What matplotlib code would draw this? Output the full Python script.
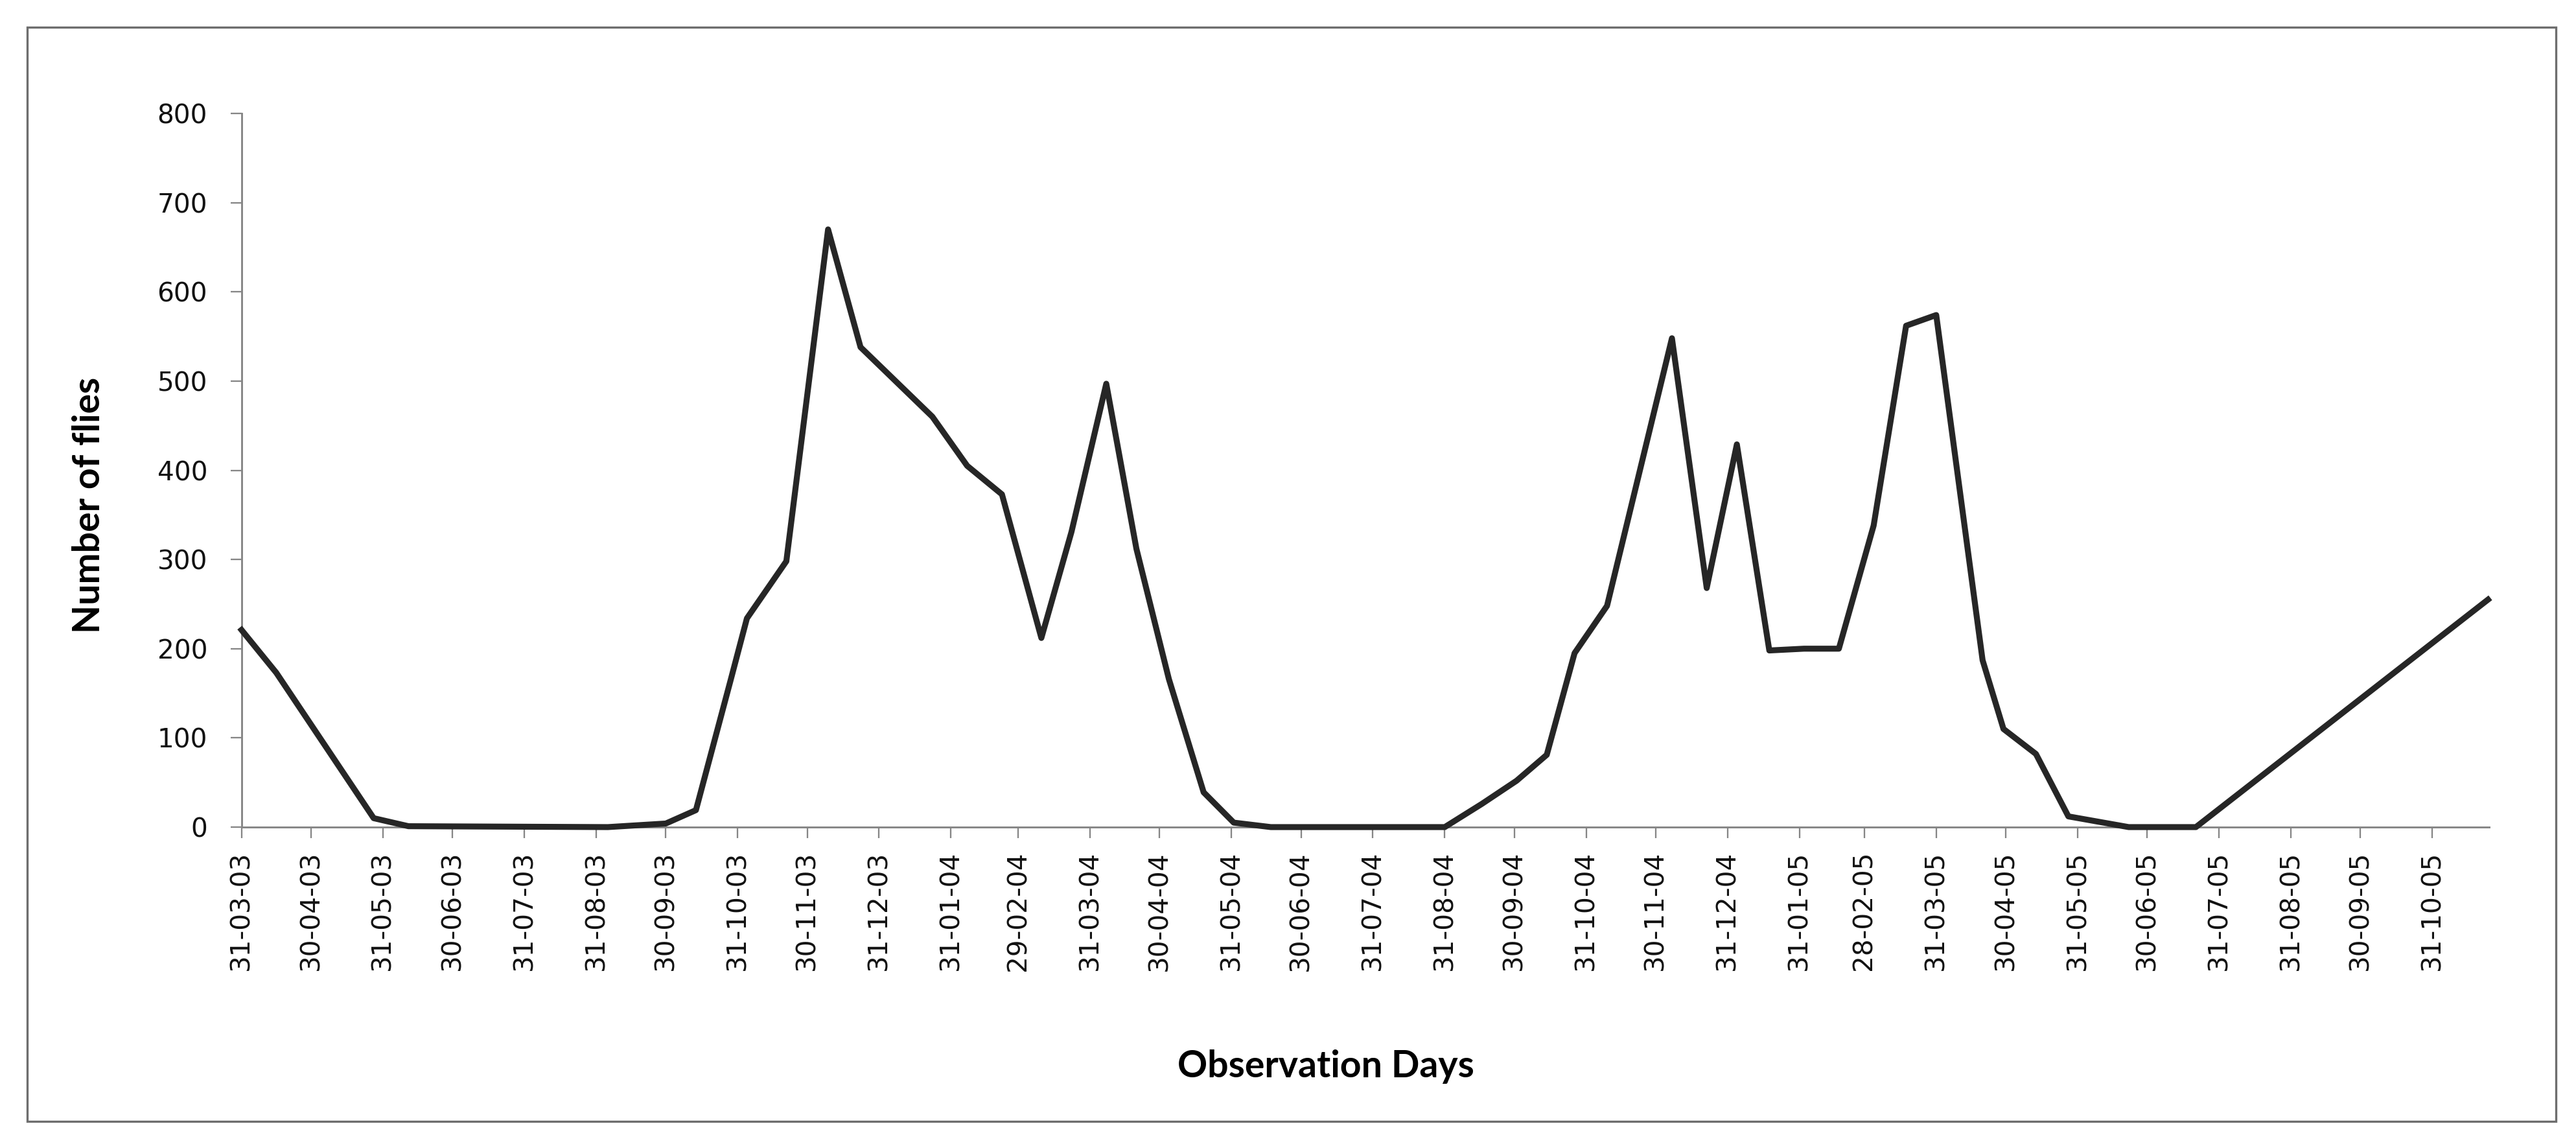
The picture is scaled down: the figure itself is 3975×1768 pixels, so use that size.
import matplotlib
matplotlib.use("Agg")
import matplotlib.pyplot as plt
import matplotlib.dates as mdates
import pandas as pd
from matplotlib.patches import Rectangle

# sampling dates and fly counts
dates = ["2003-03-31", "2003-04-15", "2003-05-27", "2003-06-11", "2003-09-05",
         "2003-09-30", "2003-10-13", "2003-10-28", "2003-11-04", "2003-11-21",
         "2003-12-09", "2003-12-23", "2004-01-23", "2004-02-07", "2004-02-22",
         "2004-03-10", "2004-03-23", "2004-04-07", "2004-04-20", "2004-05-04",
         "2004-05-19", "2004-06-01", "2004-06-17", "2004-08-31", "2004-09-16",
         "2004-10-01", "2004-10-14", "2004-10-26", "2004-11-09", "2004-12-07",
         "2004-12-22", "2005-01-04", "2005-01-18", "2005-02-02", "2005-02-17",
         "2005-03-04", "2005-03-18", "2005-03-31", "2005-04-20", "2005-04-29",
         "2005-05-13", "2005-05-27", "2005-06-22", "2005-07-21", "2005-11-24"]
flies = [221, 173, 10, 1, 0,
         4, 19, 165, 234, 298,
         670, 538, 460, 405, 373,
         212, 331, 497, 312, 166,
         39, 5, 0, 0, 26,
         52, 81, 195, 248, 548,
         268, 429, 198, 200, 200,
         338, 562, 574, 187, 110,
         82, 12, 0, 0, 255]
tick_dates = pd.date_range("2003-03-31", "2005-10-31", freq="ME")
y_ticks = list(range(0, 801, 100))

x = pd.to_datetime(dates)

W, H, DPI = 3975, 1768, 150
fig = plt.figure(figsize=(W / DPI, H / DPI), dpi=DPI)
ax = fig.add_axes([372.7 / W, 1 - 1276 / H, (3841 - 372.7) / W, (1276 - 175) / H])

# outer chart border
fig.patches.append(Rectangle((42 / W, 1 - 1730 / H), (3944 - 42) / W, (1730 - 42) / H,
                             transform=fig.transFigure, fill=False,
                             edgecolor="#6e6e6e", linewidth=1.6))

ax.plot(x, flies, color="#262626", lw=4.4, solid_joinstyle="round", clip_on=False, zorder=3)

ax.set_xlim(x[0], x[-1] + pd.Timedelta(hours=12))
ax.set_ylim(0, 800)
ax.set_yticks(y_ticks)
ax.set_xticks(tick_dates)
ax.xaxis.set_major_formatter(mdates.DateFormatter("%d-%m-%y"))

for s in ["top", "right"]:
    ax.spines[s].set_visible(False)
for s in ["left", "bottom"]:
    ax.spines[s].set_color("#868686")
    ax.spines[s].set_linewidth(1.4)

ax.tick_params(axis="y", direction="out", length=8.2, width=1.1, color="#868686",
               labelsize=19.5, pad=17)
ax.tick_params(axis="x", direction="out", length=8.2, width=1.1, color="#868686",
               labelsize=19.5, pad=9.5, labelrotation=90)
for lab in ax.get_xticklabels() + ax.get_yticklabels():
    lab.set_family("DejaVu Sans")
    lab.set_color("#111111")

fig.text(137 / W, 1 - 779 / H, "Number of flies", rotation=90, ha="center", va="center",
         fontsize=27.5, fontweight="bold", family=["Lato", "DejaVu Sans"])
fig.text(2046 / W, 1 - 1646 / H, "Observation Days", ha="center", va="center",
         fontsize=27.5, fontweight="bold", family=["Lato", "DejaVu Sans"])

fig.savefig("out.png", dpi=DPI)
